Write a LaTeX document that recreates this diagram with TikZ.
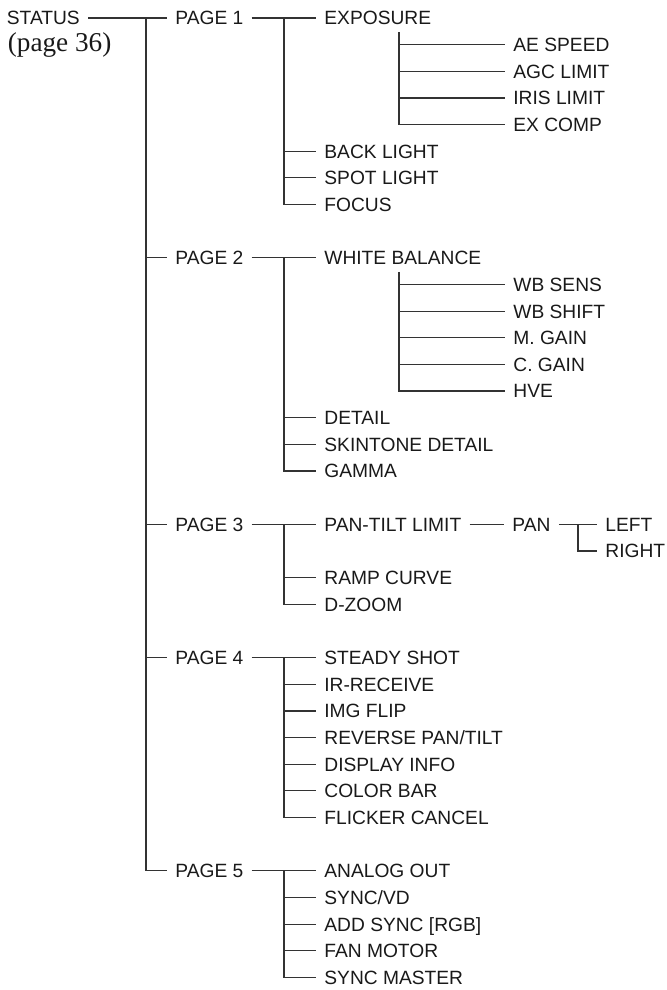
\documentclass[tikz,border=0pt]{standalone}
\usepackage{fontspec}
\setmainfont{Liberation Serif}
\setsansfont{Liberation Sans}
\usetikzlibrary{calc}

\begin{document}
\begin{tikzpicture}[x=0.5pt,y=-13.325pt,
  item/.style={anchor=west,font=\sffamily\fontsize{9.6}{11}\selectfont,
    text=black!90,inner xsep=4pt,inner ysep=1pt,text height=6.9pt,text depth=0pt},
  link/.style={draw=black!80,line width=0.6pt}]
\useasboundingbox (0,-0.675) rectangle (667,36.473);
% root
\node[item,inner xsep=4pt] (status) at (-1.5,0) {STATUS};
\node[anchor=west,inner sep=0pt,text=black!90,
  font=\rmfamily\fontsize{13.6}{15}\selectfont] (pageref) at (7.5,1) {(page 36)};
% pages
\node[item] (page1) at (167,0) {PAGE 1};
\node[item] (page2) at (167,9) {PAGE 2};
\node[item] (page3) at (167,19) {PAGE 3};
\node[item] (page4) at (167,24) {PAGE 4};
\node[item] (page5) at (167,32) {PAGE 5};
% page 1
\node[item] (expo) at (316,0) {EXPOSURE};
\node[item] (aespeed) at (505,1) {AE SPEED};
\node[item] (agc) at (505,2) {AGC LIMIT};
\node[item] (iris) at (505,3) {IRIS LIMIT};
\node[item] (excomp) at (505,4) {EX COMP};
\node[item] (backlight) at (316,5) {BACK LIGHT};
\node[item] (spotlight) at (316,6) {SPOT LIGHT};
\node[item] (focus) at (316,7) {FOCUS};
% page 2
\node[item] (wbal) at (316,9) {WHITE BALANCE};
\node[item] (wbsens) at (505,10) {WB SENS};
\node[item] (wbshift) at (505,11) {WB SHIFT};
\node[item] (mgain) at (505,12) {M. GAIN};
\node[item] (cgain) at (505,13) {C. GAIN};
\node[item] (hve) at (505,14) {HVE};
\node[item] (detail) at (316,15) {DETAIL};
\node[item] (skintone) at (316,16) {SKINTONE DETAIL};
\node[item] (gamma) at (316,17) {GAMMA};
% page 3
\node[item] (ptlimit) at (316,19) {PAN-TILT LIMIT};
\node[item] (pan) at (504,19) {PAN};
\node[item] (left) at (597,19) {LEFT};
\node[item] (right) at (597,20) {RIGHT};
\node[item] (ramp) at (316,21) {RAMP CURVE};
\node[item] (dzoom) at (316,22) {D-ZOOM};
% page 4
\node[item] (steady) at (316,24) {STEADY SHOT};
\node[item] (irrec) at (316,25) {IR-RECEIVE};
\node[item] (imgflip) at (316,26) {IMG FLIP};
\node[item] (revpt) at (316,27) {REVERSE PAN/TILT};
\node[item] (dispinfo) at (316,28) {DISPLAY INFO};
\node[item] (colorbar) at (316,29) {COLOR BAR};
\node[item] (flicker) at (316,30) {FLICKER CANCEL};
% page 5
\node[item] (analog) at (316,32) {ANALOG OUT};
\node[item] (syncvd) at (316,33) {SYNC/VD};
\node[item] (addsync) at (316,34) {ADD SYNC [RGB]};
\node[item] (fanmotor) at (316,35) {FAN MOTOR};
\node[item] (syncmaster) at (316,36) {SYNC MASTER};
% joints
\coordinate (trunk) at (146,0);
\coordinate (j1) at (284,0);
\coordinate (j2) at (284,9);
\coordinate (j3) at (284,19);
\coordinate (j4) at (284,24);
\coordinate (j5) at (284,32);
\coordinate (e1) at (399,0.53);
\coordinate (w1) at (399,9.53);
\coordinate (pj) at (578,19);
% trunk
\draw[link] (status.east) -- (page1.west);
\draw[link] (trunk) |- (page5.west);
\draw[link] (trunk |- page2.west) -- (page2.west)
  (trunk |- page3.west) -- (page3.west)
  (trunk |- page4.west) -- (page4.west);
% page 1
\draw[link] (page1.east) -- (expo.west);
\draw[link] (j1) |- (focus.west);
\draw[link] (j1 |- backlight.west) -- (backlight.west)
  (j1 |- spotlight.west) -- (spotlight.west);
\draw[link] (e1) |- (excomp.west);
\draw[link] (e1 |- aespeed.west) -- (aespeed.west)
  (e1 |- agc.west) -- (agc.west)
  (e1 |- iris.west) -- (iris.west);
% page 2
\draw[link] (page2.east) -- (wbal.west);
\draw[link] (j2) |- (gamma.west);
\draw[link] (j2 |- detail.west) -- (detail.west)
  (j2 |- skintone.west) -- (skintone.west);
\draw[link] (w1) |- (hve.west);
\draw[link] (w1 |- wbsens.west) -- (wbsens.west)
  (w1 |- wbshift.west) -- (wbshift.west)
  (w1 |- mgain.west) -- (mgain.west)
  (w1 |- cgain.west) -- (cgain.west);
% page 3
\draw[link] (page3.east) -- (ptlimit.west);
\draw[link] (ptlimit.east) -- (pan.west);
\draw[link] (pan.east) -- (left.west);
\draw[link] (pj) |- (right.west);
\draw[link] (j3) |- (dzoom.west);
\draw[link] (j3 |- ramp.west) -- (ramp.west);
% page 4
\draw[link] (page4.east) -- (steady.west);
\draw[link] (j4) |- (flicker.west);
\draw[link] (j4 |- irrec.west) -- (irrec.west)
  (j4 |- imgflip.west) -- (imgflip.west)
  (j4 |- revpt.west) -- (revpt.west)
  (j4 |- dispinfo.west) -- (dispinfo.west)
  (j4 |- colorbar.west) -- (colorbar.west);
% page 5
\draw[link] (page5.east) -- (analog.west);
\draw[link] (j5) |- (syncmaster.west);
\draw[link] (j5 |- syncvd.west) -- (syncvd.west)
  (j5 |- addsync.west) -- (addsync.west)
  (j5 |- fanmotor.west) -- (fanmotor.west);
\end{tikzpicture}
\end{document}
